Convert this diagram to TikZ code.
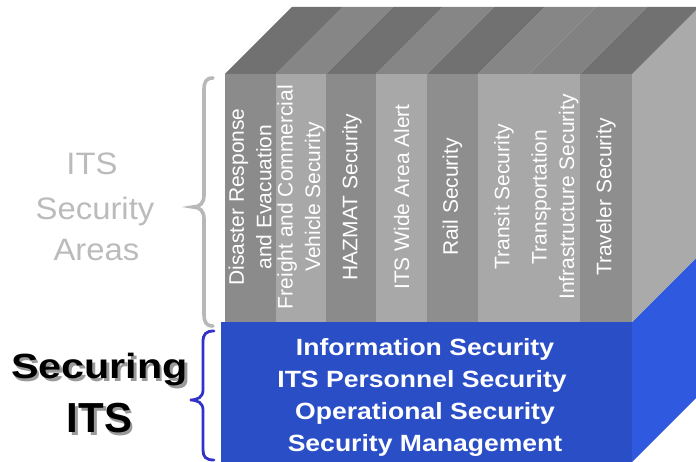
\documentclass[tikz,border=0pt]{standalone}
\usepackage{fontspec}
\setmainfont{Liberation Sans}
\newfontfamily\fontareas[FakeStretch=1.06]{Liberation Sans}
\newfontfamily\fontblue[FakeStretch=1.13]{Liberation Sans}
\newfontfamily\fontsecuring[FakeStretch=1.18]{Liberation Sans}
\definecolor{frontdark}{HTML}{8E8E8E}
\definecolor{frontlight}{HTML}{A8A8A8}
\definecolor{topdark}{HTML}{717171}
\definecolor{toplight}{HTML}{868686}
\definecolor{sidegray}{HTML}{AAAAAA}
\definecolor{bluefront}{HTML}{2A4EC6}
\definecolor{blueside}{HTML}{2F5AE0}
\definecolor{bracegray}{HTML}{B8B8B8}
\definecolor{braceblue}{HTML}{3232C8}
\definecolor{areatext}{HTML}{BBBBBB}
\definecolor{shadowgray}{HTML}{9A9A9A}
\newcommand{\shadowtext}[1]{\makebox[0pt][l]{\hspace{2.5pt}\raisebox{-3pt}{\textcolor{shadowgray}{#1}}}#1}
\tikzset{
  coltext/.style={rotate=90, align=center, inner sep=0pt, text=white,
    font=\fontsize{21}{27.5}\selectfont},
  bluetext/.style={anchor=base, inner sep=0pt, text=white,
    font=\fontblue\bfseries\fontsize{23.5}{32}\selectfont},
  areastext/.style={anchor=base, inner sep=0pt, text=areatext,
    font=\fontareas\fontsize{31}{40}\selectfont},
  securingtext/.style={anchor=base, inner sep=0pt, text=black},
  bracegrayline/.style={draw=bracegray, line width=3.6pt, line cap=round},
  braceblueline/.style={draw=braceblue, line width=2.8pt, line cap=round},
}
\begin{document}
\begin{tikzpicture}[x=1pt,y=-1pt]
\useasboundingbox (0,0) rectangle (696,462);
\clip (0,0) rectangle (696,462);
% blue base box
\fill[bluefront] (221,322) rectangle (632,470);
\fill[blueside] (632,322) -- (699,255) -- (699,395) -- (632,462) -- cycle;
% gray side face
\fill[sidegray] (632,74) -- (699,7) -- (699,255) -- (632,322) -- cycle;
% columns: front faces
\fill[frontdark!98!black] (225,74) rectangle (276,322);
\fill[frontlight] (276,74) rectangle (326,322);
\fill[frontdark!103!white] (326,74) rectangle (376,322);
\fill[frontlight] (376,74) rectangle (427,322);
\fill[frontdark] (427,74) rectangle (478,322);
\fill[frontlight] (478,74) rectangle (580,322);
\fill[frontdark] (580,74) rectangle (632,322);
% columns: top faces
\fill[topdark] (225,74) -- (292,7) -- (343,7) -- (276,74) -- cycle;
\fill[toplight] (276,74) -- (343,7) -- (393,7) -- (326,74) -- cycle;
\fill[topdark] (326,74) -- (393,7) -- (443,7) -- (376,74) -- cycle;
\fill[toplight] (376,74) -- (443,7) -- (494,7) -- (427,74) -- cycle;
\fill[topdark] (427,74) -- (494,7) -- (545,7) -- (478,74) -- cycle;
\fill[toplight] (478,74) -- (545,7) -- (596,7) -- (529,74) -- cycle;
\fill[toplight!97!black] (529,74) -- (596,7) -- (647,7) -- (580,74) -- cycle;
\fill[topdark] (580,74) -- (647,7) -- (699,7) -- (632,74) -- cycle;
% column labels
\node[coltext] (c1) at (250,197) {Disaster Response\\and Evacuation};
\node[coltext] (c2) at (301,197) {Freight and Commercial\\Vehicle Security};
\node[coltext] (c3) at (352,197) {HAZMAT Security};
\node[coltext] (c4) at (401.5,197) {ITS Wide Area Alert};
\node[coltext] (c5) at (452.5,197) {Rail Security};
\node[coltext] (c6) at (504,197) {Transit Security};
\node[coltext] (c7) at (555,197) {Transportation\\Infrastructure Security};
\node[coltext] (c8) at (606,197) {Traveler Security};
% blue box labels
\node[bluetext] (b1) at (425,355) {Information Security};
\node[bluetext] (b2) at (422,387) {ITS Personnel Security};
\node[bluetext] (b3) at (425,419) {Operational Security};
\node[bluetext] (b4) at (425,451) {Security Management};
% braces
\draw[bracegrayline] (213,78) .. controls (206,78) and (204,82) .. (204,90)
  -- (204,195) .. controls (204,203) and (200,207) .. (193,207)
  .. controls (200,207) and (204,211) .. (204,219)
  -- (204,314) .. controls (204,322) and (206,326) .. (213,326);
\draw[braceblueline] (214,331) .. controls (206,331) and (203,334) .. (203,342)
  -- (203,390) .. controls (203,397) and (198,400) .. (190,400)
  .. controls (198,400) and (203,403) .. (203,410)
  -- (203,450) .. controls (203,457) and (206,460) .. (214,460);
% left labels
\node[areastext] (a1) at (92,175) {ITS};
\node[areastext] (a2) at (95,220) {Security};
\node[areastext] (a3) at (96.5,261) {Areas};
\node[securingtext, font=\fontsecuring\bfseries\fontsize{35}{40}\selectfont] (s1) at (99.5,378) {\shadowtext{Securing}};
\node[securingtext, font=\bfseries\fontsize{42}{46}\selectfont] (s2) at (99.5,432) {\shadowtext{ITS}};
\end{tikzpicture}
\end{document}
